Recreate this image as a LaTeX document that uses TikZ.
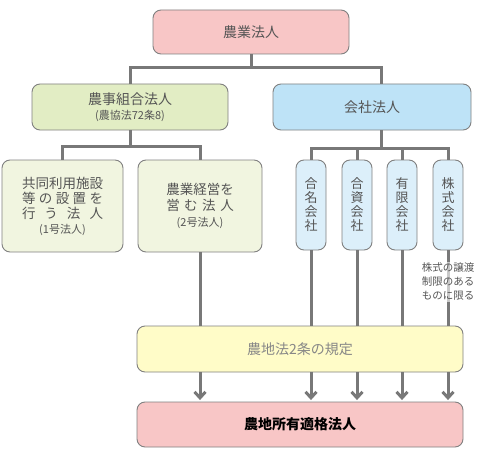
\documentclass[tikz,border=0pt]{standalone}
\usepackage{fontspec}
\setmainfont{Noto Sans CJK JP}
\usetikzlibrary{positioning,arrows.meta}
\definecolor{LineGray}{RGB}{120,120,120}
\definecolor{EdgeGray}{RGB}{128,128,128}
\definecolor{TextGray}{RGB}{85,85,85}
\definecolor{KiteiGray}{RGB}{135,135,135}
\definecolor{HoujinPink}{RGB}{248,198,198}
\definecolor{KumiaiGreen}{RGB}{226,237,196}
\definecolor{PaleGreen}{RGB}{241,245,224}
\definecolor{KaishaBlue}{RGB}{190,227,247}
\definecolor{PaleBlue}{RGB}{220,239,250}
\definecolor{KiteiYellow}{RGB}{255,252,200}
\newcommand{\subnote}[1]{{\fontsize{11}{12}\selectfont #1}}

\begin{document}
\begin{tikzpicture}[x=1pt, y=-1pt,
                % Box styles
                box/.style={draw=EdgeGray, line width=0.9pt, rounded corners=8pt, inner sep=0pt,
                    text=TextGray, align=center, font=\fontsize{14}{15}\selectfont},
                tall/.style={box, fill=PaleBlue, minimum width=30, minimum height=90,
                    font=\fontsize{13}{14}\selectfont},
                note/.style={fill=white, fill opacity=0.6, text opacity=1, text=TextGray, inner sep=1pt,
                    align=center, font=\fontsize{10.5}{14}\selectfont},
                link/.style={draw=LineGray, line width=3pt},
                arrow/.style={link, shorten >=1.5pt, -{Straight Barb[length=6pt,width=11pt]}}
            ]
                \useasboundingbox (0,0) rectangle (482,460);
                % Row 1
                \node[box, fill=HoujinPink, minimum width=196, minimum height=44] (houjin) at (251,32) {農業法人};
                % Row 2
                \node[box, fill=KumiaiGreen, minimum width=196, minimum height=46] (kumiai) at (130,107)
                    {農事組合法人\\\subnote{(農協法72条8)}};
                \node[box, fill=KaishaBlue, minimum width=198, minimum height=46] (kaisha) at (372,107) {会社法人};
                \coordinate (kaishaTop) at ([xshift=9pt]kaisha.north);
                \coordinate (kaishaBot) at ([xshift=9pt]kaisha.south);
                % Row 3
                \node[box, fill=PaleGreen, minimum width=121, minimum height=92, font=\fontsize{13.5}{15}\selectfont] (kyodo) at (62.5,206)
                    {共同利用施設\\\makebox[81pt][s]{等\hfill の\hfill 設\hfill 置\hfill を}\\\makebox[81pt][s]{行\hfill う\hfill 法\hfill 人}\\\subnote{(1号法人)}};
                \node[box, fill=PaleGreen, minimum width=124, minimum height=92, font=\fontsize{13.5}{16}\selectfont] (keiei) at (200,206)
                    {農業経営を\\\makebox[67.5pt][s]{営\hfill む\hfill 法\hfill 人}\\\subnote{(2号法人)}};
                \foreach \x/\nm/\a/\b in {311/gomei/合/名, 357/goshi/合/資, 402/yugen/有/限, 448/kabu/株/式}
                    \node[tall] (\nm) at (\x,205) {\a\\\b\\会\\社};
                % Row 4
                \node[box, fill=KiteiYellow, minimum width=326, minimum height=46, text=KiteiGray] (kitei) at (300,349) {農地法2条の規定};
                % Row 5
                \node[box, fill=HoujinPink, minimum width=326, minimum height=45, text=black,
                    font=\fontsize{14}{15}\selectfont\bfseries] (tekikaku) at (300,424.5) {農地所有適格法人};

                % Connectors
                \draw[link] (houjin.south) -- ++(0,13) -| (kumiai.north);
                \draw[link] (houjin.south) -- ++(0,13) -| (kaishaTop);
                \draw[link] (kumiai.south) -- ++(0,16) -| (kyodo.north);
                \draw[link] (kumiai.south) -- ++(0,16) -| (keiei.north);
                \foreach \nm in {gomei, goshi, yugen, kabu}
                    \draw[link] (kaishaBot) -- ++(0,18) -| (\nm.north);
                \foreach \nm in {keiei, gomei, goshi, yugen, kabu} {
                    \draw[link] (\nm.south) -- (\nm.south |- kitei.north);
                    \draw[arrow] (\nm.south |- kitei.south) -- (\nm.south |- tekikaku.north);
                }
                \node[note] (kabuNote) at (448,282) {株式の譲渡\\制限のある\\ものに限る};

            \end{tikzpicture}
\end{document}
